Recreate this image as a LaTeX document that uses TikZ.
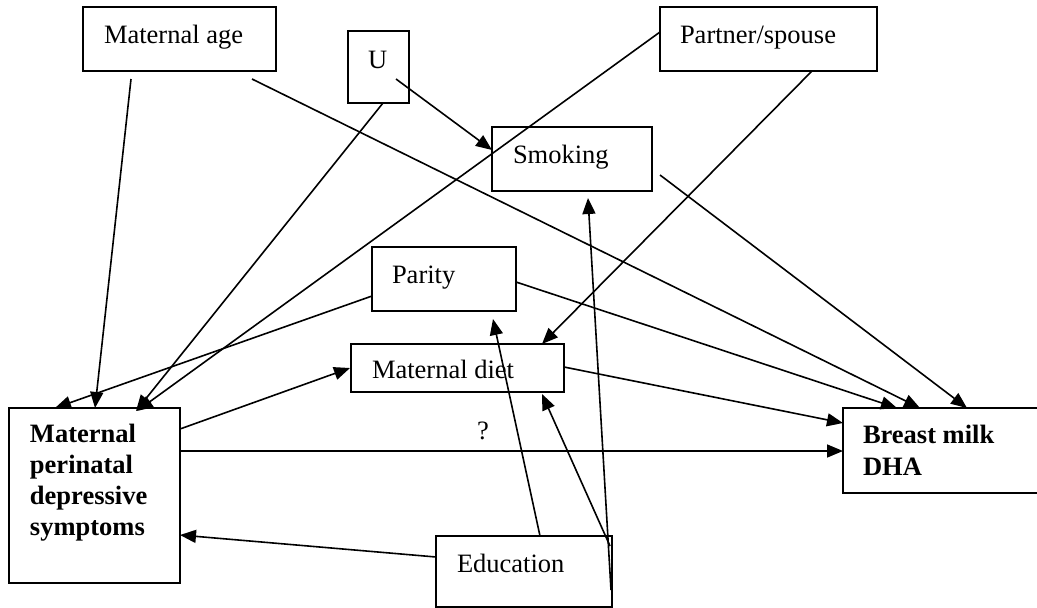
\documentclass[tikz,border=0pt]{standalone}
\usepackage{fontspec}
\setmainfont{Liberation Serif}
\usetikzlibrary{arrows.meta,calc}
\begin{document}
\begin{tikzpicture}[x=1pt,y=-1pt,
  box/.style={draw,line width=1.6pt,rectangle,inner sep=0pt,outer sep=0pt},
  lbl/.style={anchor=base west,inner sep=0pt,outer sep=0pt,font=\fontsize{26.5}{30.7}\selectfont},
  blbl/.style={lbl,align=left,font=\fontsize{26.5}{30.7}\selectfont\bfseries},
  conn/.style={line width=1.6pt},
  arr/.style={conn,-{Triangle[length=16pt,width=13pt]}}]
\useasboundingbox (0,0) rectangle (1037,608);
% boxes
\node[box,minimum width=193pt,minimum height=64pt] (age) at (179.5,39) {};
\node[box,minimum width=61pt,minimum height=72pt] (U) at (378.5,67) {};
\node[box,minimum width=217pt,minimum height=64pt] (partner) at (768.5,39) {};
\node[box,minimum width=160pt,minimum height=64pt] (smoking) at (572,159) {};
\node[box,minimum width=144pt,minimum height=64pt] (parity) at (444,279) {};
\node[box,minimum width=213pt,minimum height=48pt] (diet) at (457.5,368) {};
\node[box,minimum width=171pt,minimum height=175pt] (mpds) at (94.5,495.5) {};
\node[box,minimum width=217pt,minimum height=85pt] (bm) at (951.5,450.5) {};
\node[box,minimum width=176pt,minimum height=71pt] (edu) at (524,571.5) {};
% texts
\node[lbl] (age-t) at (104,43) {Maternal age};
\node[lbl] (U-t) at (368,68) {U};
\node[lbl] (partner-t) at (680,43) {Partner/spouse};
\node[lbl] (smoking-t) at (513,163) {Smoking};
\node[lbl] (parity-t) at (392,283) {Parity};
\node[lbl] (diet-t) at (372,378) {Maternal diet};
\node[blbl] (mpds-t) at (30,535) {Maternal\\perinatal\\depressive\\symptoms};
\node[blbl,font=\fontsize{26.5}{32}\selectfont\bfseries] (bm-t) at (863,475) {Breast milk\\DHA};
\node[lbl] (edu-t) at (457,572) {Education};
\node[lbl,anchor=base] (q) at (483,439) {?};
% connectors
\draw[arr] ($(age.south west)+(48,8)$) -- ($(mpds.north west)+(86,0)$);
\draw[arr] ($(age.south west)+(169,8)$) -- ($(bm.north west)+(77,0)$);
\draw[arr] ($(U.north west)+(48,48)$) -- ($(smoking.north west)+(0,23)$);
\draw[arr] ($(U.south west)+(35,0)$) -- ($(mpds.north west)+(127,3)$);
\draw[arr] ($(partner.north west)+(0,25)$) -- ($(mpds.north west)+(128,3)$);
\draw[arr] ($(partner.south west)+(152,0)$) -- ($(diet.north west)+(191,0)$);
\draw[arr] ($(smoking.south east)+(8,-16)$) -- ($(bm.north west)+(124,0)$);
\draw[arr] ($(parity.south west)+(0,-15)$) -- ($(mpds.north west)+(46,0)$);
\draw[arr] ($(parity.south east)+(0,-29)$) -- ($(bm.north west)+(54,0)$);
\draw[arr] ($(diet.south east)+(0,-25)$) -- ($(bm.north west)+(0,15)$);
\draw[arr] ($(mpds.north east)+(0,21)$) -- ($(diet.north west)+(-1,24)$);
\draw[arr] ($(mpds.north east)+(0,43)$) -- ($(bm.north west)+(0,43)$);
\draw[arr] ($(edu.north west)+(0,21)$) -- ($(mpds.north east)+(0,127)$);
\draw[arr] ($(edu.north west)+(104,0)$) -- ($(parity.south west)+(121,8)$);
\draw[arr] ($(edu.north east)+(-2,10)$) -- ($(diet.south west)+(191,2)$);
\draw[arr] ($(edu.north east)+(-1,54)$) -- ($(smoking.south west)+(96,7)$);
\end{tikzpicture}
\end{document}
